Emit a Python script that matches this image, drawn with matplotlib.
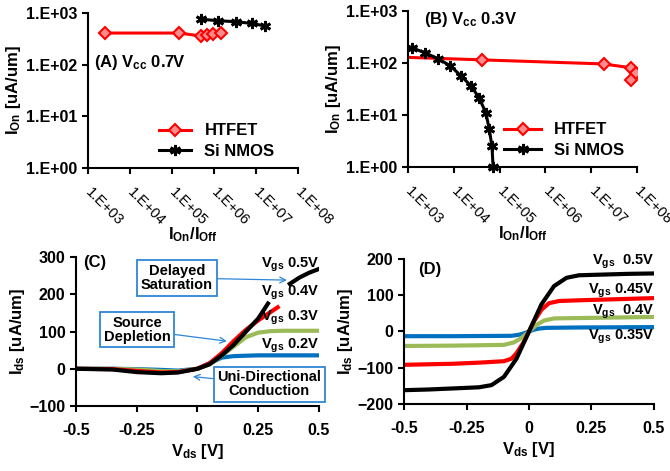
import numpy as np
import matplotlib
matplotlib.use('Agg')
import matplotlib.pyplot as plt
from matplotlib.ticker import FuncFormatter

plt.rcParams['font.family'] = ['Liberation Sans', 'DejaVu Sans']
plt.rcParams['mathtext.fontset'] = 'custom'
plt.rcParams['mathtext.rm'] = 'Liberation Sans:bold'
plt.rcParams['mathtext.it'] = 'Liberation Sans:bold'
plt.rcParams['mathtext.bf'] = 'Liberation Sans:bold'
plt.rcParams['mathtext.default'] = 'bf'

# (A) Vcc 0.7V : Ion vs Ion/Ioff
a_htfet_x = [2.5e3, 1.5e5, 4.8e5, 6.8e5, 9.5e5, 1.5e6]
a_htfet_y = [410, 410, 360, 375, 390, 410]
a_nmos_x = [4.9e5, 1.26e6, 3.3e6, 7.9e6, 1.6e7]
a_nmos_y = [760, 710, 680, 630, 565]

# (B) Vcc 0.3V
b_htfet_x = [3e2, 4.1e4, 1.86e7, 7.4e7, 9.5e7, 7.4e7]
b_htfet_y = [133, 115, 96, 81, 65, 48]
b_nmos_x = [1.23e3, 2.34e3, 4.57e3, 8.3e3, 1.45e4, 2.4e4, 3.6e4, 5.0e4, 5.9e4, 6.8e4, 7.2e4]
b_nmos_y = [195, 158, 120, 89, 56, 36, 21, 11, 5.5, 2.5, 1.0]

# (C) Ids vs Vds, HTFET
c_x02 = [-0.5, -0.35, -0.25, -0.15, -0.08, 0, 0.05, 0.1, 0.15, 0.25, 0.5]
c_y02 = [0, 0, -1, -3, -5, 0, 15, 30, 34, 36, 36]
c_x03 = [-0.5, -0.35, -0.25, -0.15, -0.08, 0, 0.05, 0.1, 0.15, 0.2, 0.25, 0.3, 0.35, 0.5]
c_y03 = [0, 0, -2, -6, -7, 0, 12, 35, 60, 85, 97, 101, 102, 102]
c_x04 = [-0.5, -0.35, -0.25, -0.15, -0.08, 0, 0.05, 0.1, 0.15, 0.2, 0.25, 0.3, 0.33]
c_y04 = [0, -1, -6, -10, -9, 0, 15, 42, 75, 105, 130, 152, 165]
c_x05 = [-0.5, -0.35, -0.25, -0.15, -0.08, 0, 0.05, 0.1, 0.15, 0.2, 0.25, 0.29, np.nan, 0.38, 0.42, 0.46, 0.5]
c_y05 = [0, -2, -9, -12, -10, 0, 12, 36, 65, 100, 135, 175, np.nan, 228, 245, 258, 268]

# (D) Ids vs Vds, Si NMOS
d_x05 = [-0.5, -0.4, -0.3, -0.2, -0.15, -0.1, -0.05, 0, 0.05, 0.1, 0.15, 0.2, 0.3, 0.4, 0.5]
d_y05 = [-162, -160, -157, -154, -148, -125, -75, 0, 75, 125, 148, 155, 157, 159, 160]
d_x045 = [-0.5, -0.3, -0.2, -0.1, -0.07, -0.05, -0.02, 0, 0.02, 0.05, 0.08, 0.12, 0.2, 0.3, 0.5]
d_y045 = [-92, -89, -86, -82, -75, -60, -28, 0, 28, 60, 78, 84, 86, 88, 92]
d_x04 = [-0.5, -0.3, -0.1, -0.06, -0.03, 0, 0.03, 0.06, 0.1, 0.2, 0.3, 0.5]
d_y04 = [-40, -39, -37, -30, -18, 0, 18, 30, 36, 37, 38, 40]
d_x035 = [-0.5, -0.3, -0.07, -0.04, -0.02, 0, 0.02, 0.04, 0.07, 0.2, 0.5]
d_y035 = [-13, -13, -12, -9, -5, 0, 5, 8, 10, 11, 12]

RED = '#ff0000'
GREEN = '#9bbb59'
BLUE = '#0070c0'
BOXC = '#2e86d6'

fig = plt.figure(figsize=(6.7, 4.71), dpi=100)
axA = fig.add_axes([0.1313, 0.6433, 0.3134, 0.329])
axB = fig.add_axes([0.609, 0.6454, 0.3418, 0.3312])
axC = fig.add_axes([0.1134, 0.138, 0.3627, 0.3163])
axD = fig.add_axes([0.603, 0.1423, 0.3731, 0.3079])

star = (6, 2, 0)
fmt = FuncFormatter(lambda v, p: '1.E+%02d' % int(round(np.log10(v))))

for ax in (axA, axB):
    ax.set_xscale('log')
    ax.set_yscale('log')
    ax.set_xlim(1e3, 1e8)
    ax.set_ylim(1, 1e3)
    ax.set_xticks([1e3, 1e4, 1e5, 1e6, 1e7, 1e8])
    ax.set_yticks([1, 10, 100, 1000])
    ax.minorticks_off()
    ax.xaxis.set_major_formatter(fmt)
    ax.yaxis.set_major_formatter(fmt)
    ax.tick_params(axis='x', pad=12)
    for lab in ax.get_yticklabels():
        lab.set_fontweight('bold')
        lab.set_fontsize(11.5)
    for lab in ax.get_xticklabels():
        lab.set_rotation(-45)
        lab.set_ha('left')
        lab.set_va('center')
        lab.set_fontsize(10.5)
        lab.set_rotation_mode('anchor')
    ax.set_ylabel('I$_{On}$ [uA/um]', fontsize=12, fontweight='bold', labelpad=2)
    ax.set_xlabel('I$_{On}$/I$_{Off}$', fontsize=12, fontweight='bold', labelpad=-2)

axA.plot(a_htfet_x, a_htfet_y, color=RED, lw=2.2, marker='D', ms=6, mfc='#ff8c8c', mec=RED, mew=1.5, label='HTFET')
axA.plot(a_nmos_x, a_nmos_y, color='black', lw=2.2, marker=star, ms=8, mew=2, label='Si NMOS')
axA.text(10**3.15, 10**2.05, '(A) V$_{cc}$ 0.7V', fontsize=12, fontweight='bold', va='center')
axA.legend(loc='lower right', bbox_to_anchor=(0.96, -0.04), frameon=False,
           prop={'weight': 'bold', 'size': 12}, handlelength=1.9, labelspacing=0.35)

axB.plot(b_htfet_x, b_htfet_y, color=RED, lw=2.2, marker='D', ms=6, mfc='#ff8c8c', mec=RED, mew=1.5,
         label='HTFET', clip_on=True)
axB.plot(b_nmos_x, b_nmos_y, color='black', lw=2.2, marker=star, ms=8, mew=2, label='Si NMOS', clip_on=False)
axB.text(10**3.35, 10**2.83, '(B) V$_{cc}$ 0.3V', fontsize=12, fontweight='bold', va='center')
axB.legend(loc='lower right', bbox_to_anchor=(1.01, -0.04), frameon=False,
           prop={'weight': 'bold', 'size': 12}, handlelength=2.2, labelspacing=0.35)

# (C)
axC.plot(c_x02, c_y02, color=BLUE, lw=3)
axC.plot(c_x03, c_y03, color=GREEN, lw=3)
axC.plot(c_x04, c_y04, color=RED, lw=3)
axC.plot(c_x05, c_y05, color='black', lw=3)
axC.set_xlim(-0.5, 0.5)
axC.set_ylim(-100, 300)
axC.set_yticks([-100, 0, 100, 200, 300])
axC.text(-0.47, 286, '(C)', fontsize=12, fontweight='bold', va='center')
for y, s in [(280, '0.5V'), (205, '0.4V'), (138, '0.3V'), (61, '0.2V')]:
    axC.text(0.5, y, 'V$_{gs}$ ' + s, fontsize=10.5, fontweight='bold', ha='right', va='center')
box = dict(boxstyle='square,pad=0.25', fc='white', ec=BOXC, lw=1.3)
arr = dict(arrowstyle='->', color=BOXC, lw=0.9, shrinkA=0, shrinkB=0)
axC.annotate('Delayed\nSaturation', xy=(0.368, 238), xytext=(-0.084, 244), ha='center', va='center',
             fontsize=10.5, fontweight='bold', bbox=box, arrowprops=arr, linespacing=1.0)
axC.annotate('Source\nDepletion', xy=(0.121, 74), xytext=(-0.249, 105), ha='center', va='center',
             fontsize=10.5, fontweight='bold', bbox=box, arrowprops=arr, linespacing=1.0)
axC.annotate('Uni-Directional\nConduction', xy=(-0.019, -21), xytext=(0.296, -42), ha='center', va='center',
             fontsize=10.5, fontweight='bold', bbox=box, arrowprops=arr, linespacing=1.0)
axC.set_ylabel('I$_{ds}$ [uA/um]', fontsize=12, fontweight='bold', labelpad=2)
axC.set_xlabel('V$_{ds}$ [V]', fontsize=12, fontweight='bold', labelpad=3)

# (D)
axD.plot(d_x035, d_y035, color=BLUE, lw=3)
axD.plot(d_x04, d_y04, color=GREEN, lw=3)
axD.plot(d_x045, d_y045, color=RED, lw=3)
axD.plot(d_x05, d_y05, color='black', lw=3)
axD.set_xlim(-0.5, 0.5)
axD.set_ylim(-200, 200)
axD.set_yticks([-200, -100, 0, 100, 200])
axD.text(-0.445, 172, '(D)', fontsize=12, fontweight='bold', va='center')
for y, s in [(191, '  0.5V'), (113, ' 0.45V'), (53, '  0.4V'), (-16, ' 0.35V')]:
    axD.text(0.5, y, 'V$_{gs}$' + s, fontsize=10.5, fontweight='bold', ha='right', va='center')
axD.set_ylabel('I$_{ds}$ [uA/um]', fontsize=12, fontweight='bold', labelpad=2)
axD.set_xlabel('V$_{ds}$ [V]', fontsize=12, fontweight='bold', labelpad=3)

for ax in (axC, axD):
    ax.set_xticks([-0.5, -0.25, 0, 0.25, 0.5])
    ax.set_xticklabels(['-0.5', '-0.25', '0', '0.25', '0.5'])
    for lab in ax.get_xticklabels() + ax.get_yticklabels():
        lab.set_fontweight('bold')
        lab.set_fontsize(11.5)
    ax.tick_params(axis='x', pad=8)

for ax in (axA, axB, axC, axD):
    ax.spines['top'].set_visible(False)
    ax.spines['right'].set_visible(False)
    ax.spines['left'].set_linewidth(1.5)
    ax.spines['bottom'].set_linewidth(1.5)
    ax.tick_params(width=1.5, length=4, direction='out')

fig.savefig('out.png', dpi=100)
